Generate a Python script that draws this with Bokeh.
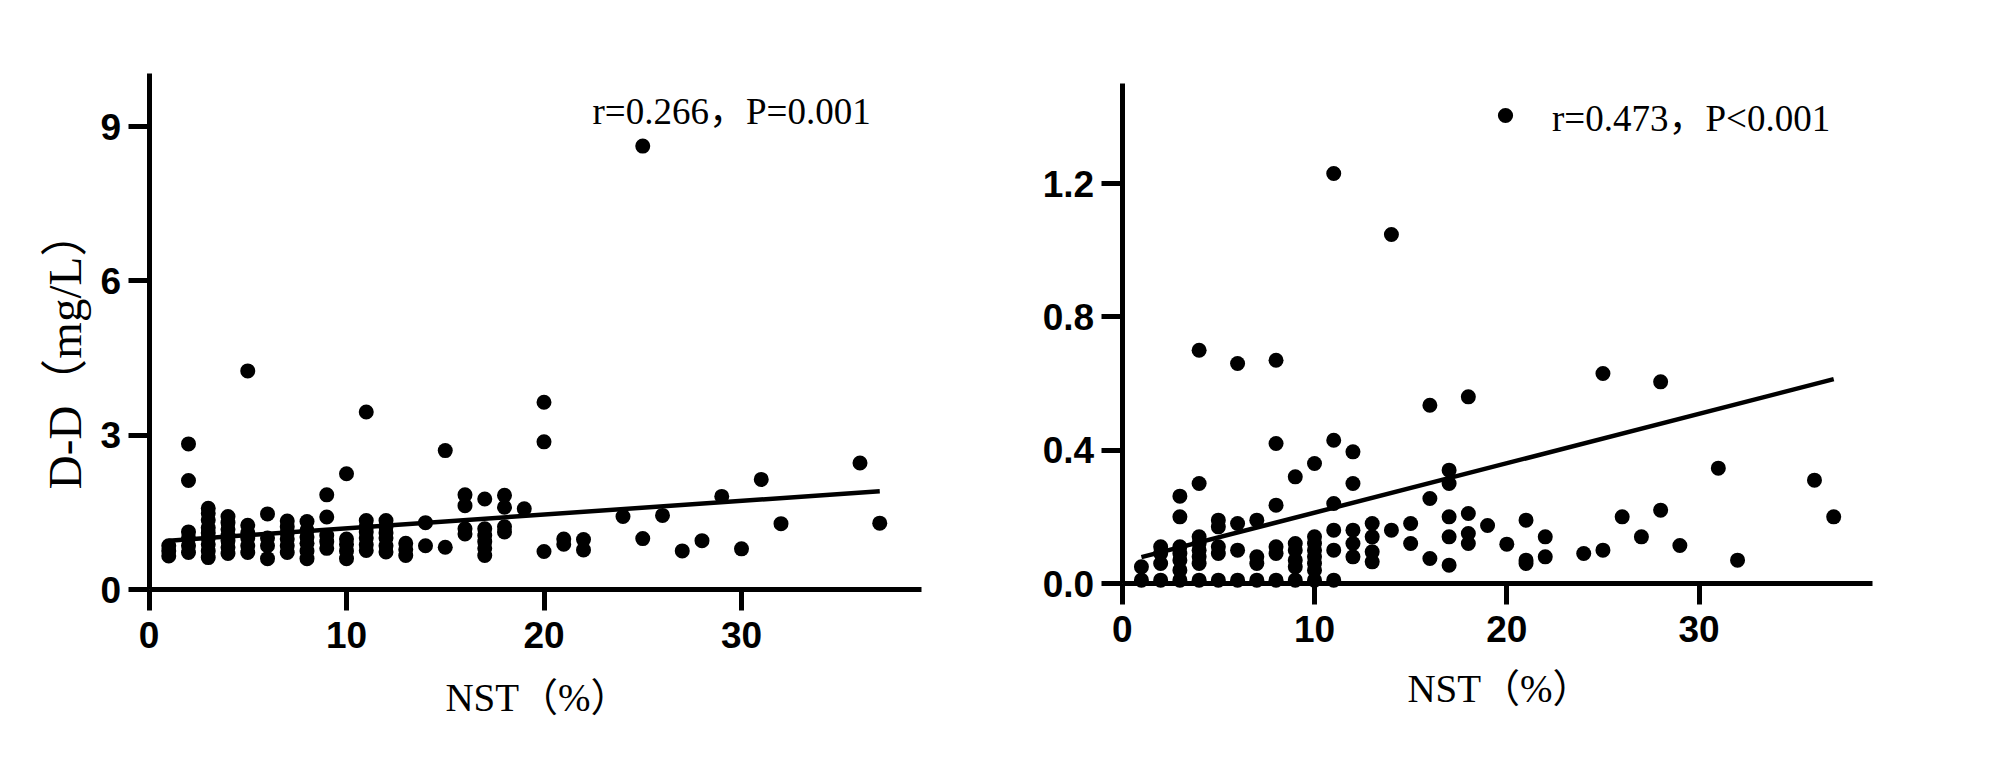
from bokeh.plotting import figure
from bokeh.layouts import row
from bokeh.models import Range1d, FixedTicker, Label, Legend, LegendItem
from bokeh.embed import file_html
from bokeh.resources import INLINE

# ---------------- data ----------------
# Left panel: NST (%) vs D-D (mg/L)
left_x = ([1] * 3 + [2] * 6 + [3] * 9 + [4] * 7 + [5] * 6 + [6] * 4 + [7] * 6 + [8] * 6
          + [9] * 5 + [10] * 5 + [11] * 7 + [12] * 6 + [13] * 3 + [14] * 2 + [15] * 2
          + [16] * 4 + [17] * 6 + [18] * 4 + [19] + [20] * 3 + [21] * 2 + [22] * 2
          + [24] + [25] * 2 + [26] + [27] + [28] + [29] + [30] + [31] + [32] + [36] + [37])
left_y = [0.65, 0.75, 0.85,
          0.72, 0.85, 1.0, 1.12, 2.12, 2.83,
          0.62, 0.75, 0.88, 1.0, 1.1, 1.2, 1.35, 1.48, 1.58,
          0.7, 0.82, 0.95, 1.05, 1.17, 1.3, 1.42,
          0.72, 0.85, 1.0, 1.1, 1.25, 4.25,
          0.6, 0.85, 1.0, 1.47,
          0.72, 0.85, 0.98, 1.1, 1.22, 1.33,
          0.6, 0.75, 0.9, 1.02, 1.15, 1.32,
          0.8, 0.93, 1.05, 1.41, 1.84,
          0.6, 0.75, 0.88, 0.98, 2.25,
          0.76, 0.87, 1.0, 1.12, 1.22, 1.34, 3.45,
          0.73, 0.85, 1.0, 1.1, 1.22, 1.34,
          0.66, 0.78, 0.9,
          0.85, 1.3,
          0.82, 2.7,
          1.08, 1.18, 1.63, 1.84,
          0.66, 0.8, 0.93, 1.05, 1.18, 1.76,
          1.12, 1.22, 1.6, 1.83,
          1.57,
          0.74, 2.87, 3.64,
          0.88, 0.98,
          0.77, 0.97,
          1.42,
          0.99, 8.62,
          1.44,
          0.75,
          0.95,
          1.81,
          0.79,
          2.14,
          1.28,
          2.46,
          1.29]
left_fit_x = [1, 37]
left_fit_y = [0.95, 1.91]

# Right panel
right_x = ([1] * 2 + [2] * 4 + [3] * 7 + [4] * 8 + [5] * 5 + [6] * 4 + [7] * 4 + [8] * 6
           + [9] * 6 + [10] * 8 + [11] * 6 + [12] * 5 + [13] * 4 + [14] * 2 + [15] * 2
           + [16] * 3 + [17] * 5 + [18] * 4 + [19] + [20] + [21] * 3 + [22] * 2
           + [24] + [25] * 2 + [26] + [27] + [28] * 2 + [29] + [31] + [32] + [36] + [37])
right_y = [0.01, 0.05,
           0.01, 0.06, 0.09, 0.11,
           0.01, 0.04, 0.07, 0.09, 0.11, 0.20, 0.262,
           0.01, 0.06, 0.08, 0.10, 0.12, 0.14, 0.30, 0.70,
           0.01, 0.09, 0.11, 0.17, 0.19,
           0.01, 0.10, 0.18, 0.66,
           0.01, 0.06, 0.08, 0.19,
           0.01, 0.09, 0.11, 0.235, 0.42, 0.67,
           0.01, 0.05, 0.07, 0.10, 0.12, 0.32,
           0.01, 0.04, 0.06, 0.08, 0.10, 0.12, 0.14, 0.36,
           0.01, 0.10, 0.16, 0.24, 0.43, 1.23,
           0.08, 0.12, 0.16, 0.30, 0.395,
           0.065, 0.095, 0.14, 0.18,
           0.16, 1.047,
           0.12, 0.18,
           0.075, 0.255, 0.535,
           0.055, 0.14, 0.20, 0.30, 0.34,
           0.12, 0.15, 0.21, 0.56,
           0.174,
           0.118,
           0.06, 0.07, 0.19,
           0.08, 0.14,
           0.09,
           0.10, 0.63,
           0.20,
           0.14,
           0.22, 0.605,
           0.114,
           0.346,
           0.07,
           0.31,
           0.20]
right_fit_x = [1, 37]
right_fit_y = [0.079, 0.613]

left_xticks = [0, 10, 20, 30]
left_yticks = [0, 3, 6, 9]
left_xbounds = (0, 39.1)
left_ybounds = (0, 10.03)
right_xticks = [0, 10, 20, 30]
right_yticks = [0, 0.4, 0.8, 1.2]
right_ytick_labels = ["0.0", "0.4", "0.8", "1.2"]
right_xbounds = (0, 39.0)
right_ybounds = (0, 1.5)

x_title = "NST（%）"
y_title_left = "D-D（mg/L）"
left_note = "r=0.266，P=0.001"
right_note = "r=0.473，P<0.001"

# ---------------- styling / layout ----------------
SERIF = "'Liberation Serif', 'Noto Sans CJK SC'"
TICKFONT = "Liberation Sans"
W, H = 1000, 760
DY = 12  # empirical vertical correction for screen-unit labels


def ranges(x0px, xscale, y0px, yscale):
    # frame covers the whole canvas; anchor pixel of the origin and pixels per unit
    xr = Range1d(-x0px / xscale, (W - x0px) / xscale)
    yr = Range1d(-(H - y0px) / yscale, y0px / yscale)
    return xr, yr


def make_fig(xr, yr):
    p = figure(width=W, height=H, x_range=xr, y_range=yr, output_backend="svg",
               toolbar_location=None, min_border=0)
    p.title.visible = False
    p.xgrid.visible = False
    p.ygrid.visible = False
    p.outline_line_color = None
    return p


def style_axes(p, xticks, yticks, xbounds, ybounds, ylabels=None):
    for ax in (p.xaxis[0], p.yaxis[0]):
        ax.fixed_location = 0
        ax.axis_line_width = 5
        ax.axis_line_color = "black"
        ax.major_tick_line_width = 5
        ax.major_tick_line_color = "black"
        ax.major_tick_out = 21
        ax.major_tick_in = 0
        ax.minor_tick_out = 0
        ax.minor_tick_in = 0
        ax.major_label_text_font = TICKFONT
        ax.major_label_text_font_style = "bold"
        ax.major_label_text_font_size = "37px"
        ax.major_label_text_color = "black"
    p.xaxis[0].bounds = xbounds
    p.yaxis[0].bounds = ybounds
    p.xaxis[0].ticker = FixedTicker(ticks=xticks)
    p.yaxis[0].ticker = FixedTicker(ticks=yticks)
    p.xaxis[0].major_label_standoff = 11
    p.yaxis[0].major_label_standoff = 7
    if ylabels is not None:
        p.yaxis[0].major_label_overrides = {t: l for t, l in zip(yticks, ylabels)}


def text_label(p, x, y_top, text, size, **kw):
    p.add_layout(Label(x=x, y=H - y_top + DY, x_units="screen", y_units="screen", text=text,
                       text_font=SERIF, text_font_size=size, text_color="black", **kw))


# Left figure
xr1, yr1 = ranges(148.5, 19.75, 589, 51.44)
p1 = make_fig(xr1, yr1)
style_axes(p1, left_xticks, left_yticks, left_xbounds, left_ybounds)
p1.scatter(left_x, left_y, size=15, fill_color="black", line_color=None)
p1.line(left_fit_x, left_fit_y, line_width=4.5, line_color="black")
text_label(p1, 592, 123, left_note, "37px", text_align="left", text_baseline="alphabetic")
text_label(p1, 537, 709, x_title, "39px", text_align="center", text_baseline="alphabetic")
text_label(p1, 64, 361, y_title_left, "47px", angle=90, angle_units="deg",
           text_align="center", text_baseline="middle")

# Right figure
xr2, yr2 = ranges(121.7, 19.23, 583, 333.3)
p2 = make_fig(xr2, yr2)
style_axes(p2, right_xticks, right_yticks, right_xbounds, right_ybounds, right_ytick_labels)
sc2 = p2.scatter(right_x, right_y, size=15, fill_color="black", line_color=None)
p2.line(right_fit_x, right_fit_y, line_width=4.5, line_color="black")
text_label(p2, 499, 700, x_title, "39px", text_align="center", text_baseline="alphabetic")
leg = Legend(items=[LegendItem(label=right_note, renderers=[sc2])],
             location=(486, H - 143), padding=0, margin=0, spacing=0,
             glyph_width=38, glyph_height=56, label_standoff=28,
             border_line_color=None, background_fill_alpha=0,
             label_text_font=SERIF, label_text_font_size="37px", label_text_color="black")
p2.add_layout(leg)

layout = row(p1, p2)
open("out.html", "w").write(file_html(layout, INLINE))
